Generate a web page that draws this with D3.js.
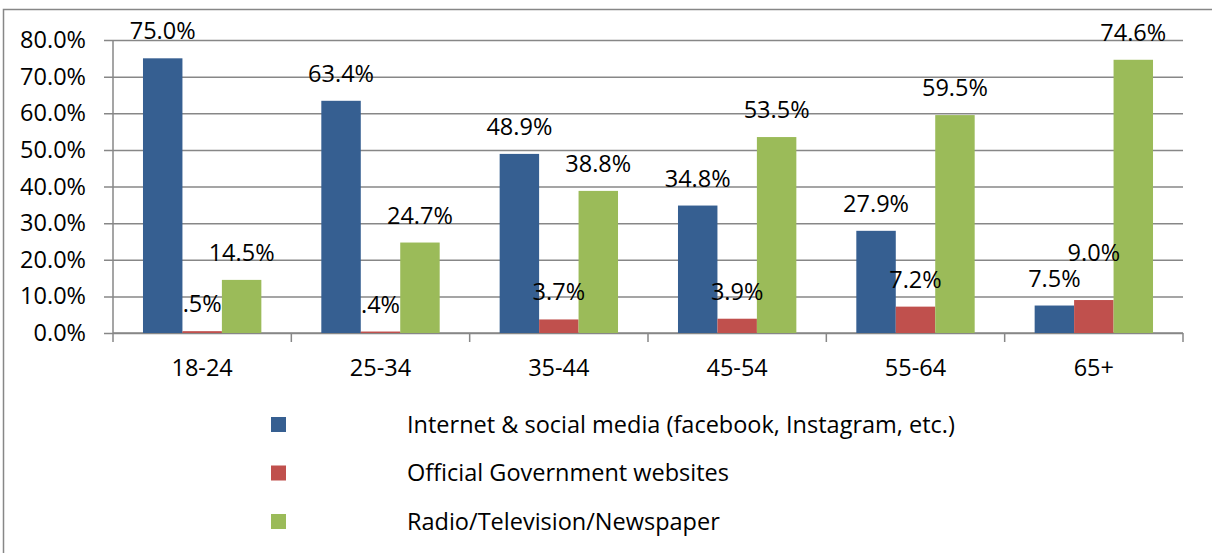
<!DOCTYPE html>
<html>
<head>
<meta charset="utf-8">
<script src="https://cdn.jsdelivr.net/npm/d3@7/dist/d3.min.js"></script>
<style>
  html, body { margin: 0; padding: 0; background: #fff; }
  svg { display: block; }
  text { font-family: "Open Sans", "Noto Sans", sans-serif; fill: #000; }
</style>
</head>
<body>
<svg id="chart" width="1212" height="553"></svg>
<script>
// Age groups and the share (%) of each group using each information source
const ageGroups = ["18-24", "25-34", "35-44", "45-54", "55-64", "65+"];
const seriesNames = [
  "Internet & social media (facebook, Instagram, etc.)",
  "Official Government websites",
  "Radio/Television/Newspaper"
];
const internetSocial = [75.0, 63.4, 48.9, 34.8, 27.9, 7.5];
const govWebsites = [0.5, 0.4, 3.7, 3.9, 7.2, 9.0];
const radioTvPaper = [14.5, 24.7, 38.8, 53.5, 59.5, 74.6];
const yTicks = [0, 10, 20, 30, 40, 50, 60, 70, 80];
const seriesColors = ["#365F91", "#C0504D", "#9BBB59"];

const seriesValues = [internetSocial, govWebsites, radioTvPaper];

const svg = d3.select("#chart");
const gridColor = "#878787";
const fontSize = 23.5;

// outer frame
svg.append("rect")
  .attr("x", 3.5).attr("y", 9.5)
  .attr("width", 1300).attr("height", 700)
  .attr("fill", "none").attr("stroke", gridColor).attr("stroke-width", 1.5);

const plot = { left: 113, right: 1183, top: 40, bottom: 333 };

const x = d3.scaleBand().domain(ageGroups).range([plot.left, plot.right]).paddingInner(0).paddingOuter(0);
const inner = d3.scaleBand().domain(d3.range(seriesNames.length))
  .range([0, x.bandwidth()]).paddingOuter(0.76).paddingInner(0);
const y = d3.scaleLinear().domain([0, 80]).range([plot.bottom, plot.top]);

// horizontal gridlines with outward tick marks
const yAxis = d3.axisLeft(y).tickValues(yTicks)
  .tickSize(-(plot.right - plot.left)).tickPadding(27)
  .tickFormat(d => d3.format(".1f")(d) + "%");
const gy = svg.append("g").attr("transform", `translate(${plot.left},0)`).call(yAxis);
gy.select(".domain").remove();
gy.selectAll(".tick line").attr("stroke", gridColor).attr("stroke-width", 1.5).attr("x1", -9);
gy.selectAll(".tick text").attr("font-size", fontSize).attr("font-family", "Open Sans").attr("fill", "#000");

// vertical axis line
svg.append("line")
  .attr("x1", plot.left).attr("x2", plot.left)
  .attr("y1", plot.top).attr("y2", plot.bottom)
  .attr("stroke", gridColor).attr("stroke-width", 1.5);

// category axis with ticks between groups
const boundaries = ageGroups.map(g => x(g)).concat([plot.right]);
svg.append("line")
  .attr("x1", plot.left).attr("x2", plot.right)
  .attr("y1", plot.bottom).attr("y2", plot.bottom)
  .attr("stroke", gridColor).attr("stroke-width", 1.5);
svg.selectAll("line.xtick").data(boundaries).enter().append("line")
  .attr("class", "xtick")
  .attr("x1", d => d).attr("x2", d => d)
  .attr("y1", plot.bottom).attr("y2", plot.bottom + 9)
  .attr("stroke", gridColor).attr("stroke-width", 1.5);
svg.selectAll("text.xlabel").data(ageGroups).enter().append("text")
  .attr("class", "xlabel")
  .attr("x", d => x(d) + x.bandwidth() / 2)
  .attr("y", 376)
  .attr("text-anchor", "middle")
  .attr("font-size", fontSize)
  .text(d => d);

// value labels: one decimal, leading zero dropped
const labelFmt = v => d3.format(".1f")(v).replace(/^0\./, ".") + "%";
const labelGap = 19, lineStep = 25.5;

// label baselines, nudged upward when they would collide with the
// label of the neighbouring bar in the same group
const baselines = seriesValues.map(vals => vals.map(v => y(v) - labelGap));
for (let s = 1; s < seriesValues.length; s++) {
  for (let i = 0; i < ageGroups.length; i++) {
    const prev = baselines[s - 1][i];
    if (Math.abs(baselines[s][i] - prev) < lineStep) {
      baselines[s][i] = prev - lineStep;
    }
  }
}

// bars
const barLayer = svg.append("g");
seriesValues.forEach((vals, s) => {
  barLayer.append("g").selectAll("rect").data(vals).enter().append("rect")
    .attr("x", (d, i) => x(ageGroups[i]) + inner(s))
    .attr("width", inner.bandwidth())
    .attr("y", d => y(d))
    .attr("height", d => y(0) - y(d))
    .attr("fill", seriesColors[s]);
});

// value labels on top of all bars
const labelLayer = svg.append("g");
seriesValues.forEach((vals, s) => {
  labelLayer.append("g").selectAll("text").data(vals).enter().append("text")
    .attr("x", (d, i) => x(ageGroups[i]) + inner(s) + inner.bandwidth() / 2)
    .attr("y", (d, i) => baselines[s][i])
    .attr("text-anchor", "middle")
    .attr("font-size", fontSize)
    .text(d => labelFmt(d));
});

// legend
const legend = svg.append("g");
seriesNames.forEach((name, i) => {
  const cy = 424.5 + i * 48.5;
  legend.append("rect")
    .attr("x", 271).attr("y", cy - 7.5)
    .attr("width", 15).attr("height", 15)
    .attr("fill", seriesColors[i]);
  legend.append("text")
    .attr("x", 407).attr("y", cy)
    .attr("dy", "0.35em")
    .attr("font-size", fontSize)
    .text(name);
});
</script>
</body>
</html>
